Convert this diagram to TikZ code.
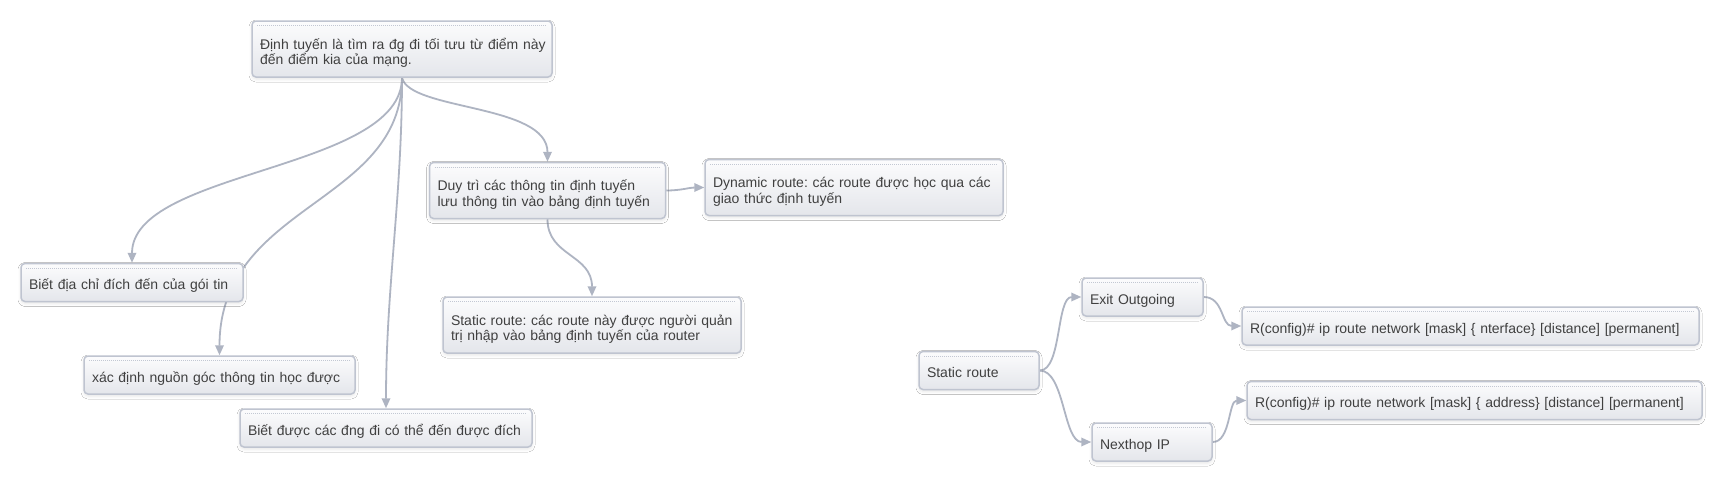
\documentclass[tikz,border=0pt]{standalone}
\usepackage{fontspec}
\setmainfont{Liberation Sans}
\frenchspacing
\lineskiplimit=-20pt\relax
\lineskip=0pt\relax
\usetikzlibrary{arrows.meta,shadows.blur,backgrounds}
\definecolor{boxline}{HTML}{BFC4D0}
\definecolor{boxtop}{HTML}{FCFCFD}
\definecolor{boxbot}{HTML}{E4E6EB}
\definecolor{edgecol}{HTML}{AEB4C2}
\definecolor{txtcol}{HTML}{404040}
\definecolor{dotcol}{HTML}{C3C8D3}

\begin{document}
\begin{tikzpicture}[x=1pt, y=-1pt,
  every node/.style={draw=boxline, line width=1.5pt, rounded corners=4pt,
    top color=boxtop, bottom color=boxbot, text=txtcol, align=left,
    inner xsep=8pt, inner ysep=0pt, font=\fontsize{14}{15.5}\selectfont,
    blur shadow={shadow xshift=0pt, shadow yshift=-2pt, shadow blur radius=3pt, shadow opacity=10},
    path picture={\draw[dotcol, line width=0.8pt, dash pattern=on 1pt off 1pt]
      ([xshift=5pt,yshift=-4.5pt]path picture bounding box.north west) --
      ([xshift=-5pt,yshift=-4.5pt]path picture bounding box.north east);}},
  one/.style={minimum height=38pt, text height=16pt, text depth=2pt},
  two/.style={minimum height=56pt, text height=17.5pt, text depth=17.5pt},
  link/.style={draw=edgecol, line width=1.8pt, -{Triangle[length=10pt,width=8.5pt]}}]
\useasboundingbox (0,0) rectangle (1724,482);
% left map
\node[two, text width=284pt] (M0) at (402,49) {\mbox{Định tuyến là tìm ra đg đi tối tưu từ điểm này}\\đến điểm kia của mạng.};
\node[two, text width=220pt] (M1) at (547.5,190.5) {Duy trì các thông tin định tuyến\\lưu thông tin vào bảng định tuyến};
\node[two, text width=282pt] (M2) at (854,187.5) {\mbox{Dynamic route: các route được học qua các}\\giao thức định tuyến};
\node[one, text width=206pt] (M3) at (132,282.5) {Biết địa chỉ đích đến của gói tin};
\node[one, text width=255pt] (M4) at (219.5,375) {xác định nguồn góc thông tin học được};
\node[one, text width=276pt] (M5) at (386,428) {Biết được các đng đi có thể đến được đích};
\node[two, text width=282pt] (M6) at (592,325) {\mbox{Static route: các route này được người quản}\\trị nhập vào bảng định tuyến của router};
% right map
\node[one, text width=104pt] (S0) at (979,370.5) {Static route};
\node[one, text width=105pt] (S1) at (1142.5,297) {Exit Outgoing};
\node[one, text width=441pt] (S2) at (1470.5,326) {R(config)\# ip route network [mask] \{ nterface\} [distance] [permanent]};
\node[one, text width=104pt] (S3) at (1152,442) {Nexthop IP};
\node[one, text width=439pt] (S4) at (1474.5,400.5) {R(config)\# ip route network [mask] \{ address\} [distance] [permanent]};
\begin{pgfonlayer}{background}
\fill[white] (0,0) rectangle (1724,482);
\draw[link] (M0.south) .. controls +(0,93) and +(0,-93) .. (M3.north);
\draw[link] (M0.south) .. controls +(0,127) and +(0,-152) .. (M4.north);
\draw[link] (M0.south) .. controls +(0,120) and +(0,-120) .. (M5.north);
\draw[link] (M0.south) .. controls +(8,33) and +(0,-58) .. (M1.north);
\draw[link] (M1.east) .. controls +(15,0) and +(-15,0) .. (M2.west);
\draw[link] (M1.south) .. controls +(0,37) and +(0,-42) .. (M6.north);
\draw[link] (S0.east) .. controls +(22,0) and +(-25,0) .. (S1.west);
\draw[link] (S0.east) .. controls +(25,0) and +(-28,0) .. (S3.west);
\draw[link] (S1.east) .. controls +(20,0) and +(-20,0) .. (S2.west);
\draw[link] (S3.east) .. controls +(18,0) and +(-18,0) .. (S4.west);
\end{pgfonlayer}
\end{tikzpicture}
\end{document}
